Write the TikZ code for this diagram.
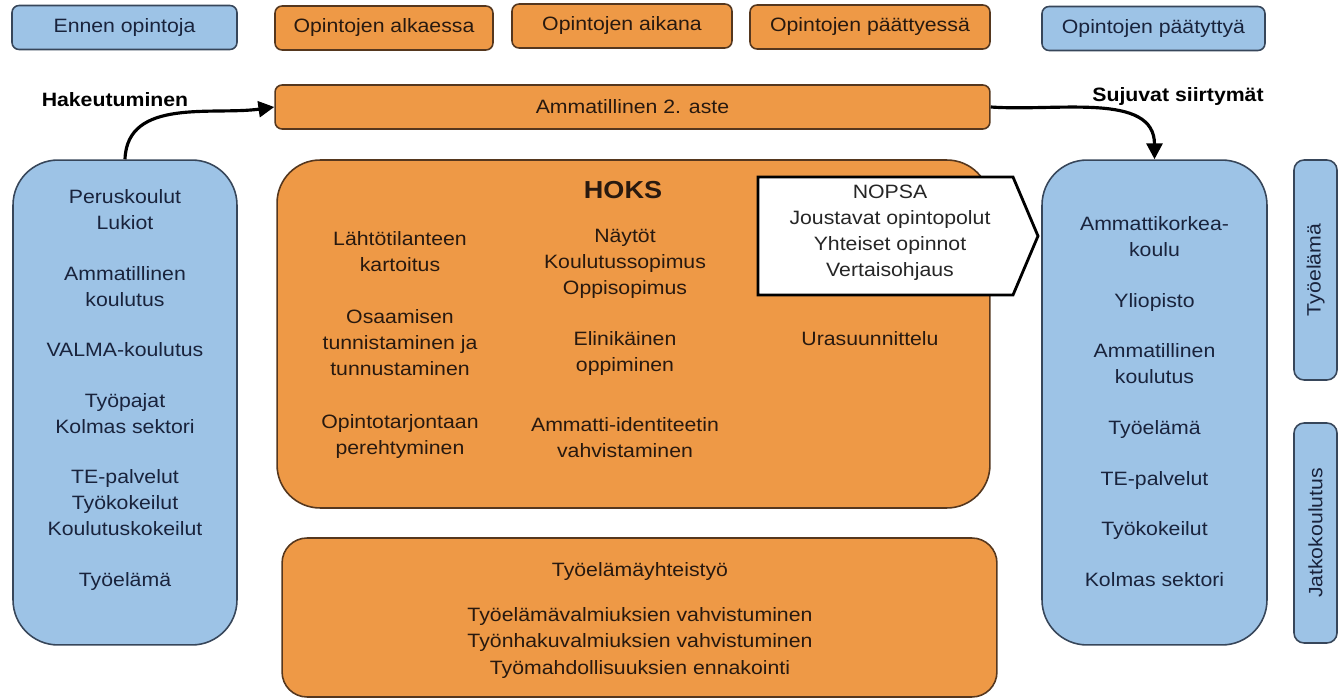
\documentclass[tikz,border=0pt]{standalone}
\usepackage{fontspec}
\setmainfont[FakeStretch=1.1]{Liberation Sans}
\usetikzlibrary{arrows.meta}

\definecolor{oranssi}{RGB}{238,153,70}
\definecolor{sininen}{RGB}{157,195,230}
\definecolor{reunasin}{RGB}{55,70,90}
\definecolor{reunaor}{RGB}{85,55,30}
\definecolor{tekstisin}{RGB}{25,35,60}
\definecolor{tekstior}{RGB}{40,25,15}

\begin{document}
\begin{tikzpicture}[x=0.02cm, y=-0.02cm,
    every node/.style={font=\fontsize{11}{14.8}\selectfont, align=center},
    sinibox/.style={draw=reunasin, fill=sininen, text=tekstisin, line width=0.9pt, inner sep=0pt},
    oranssibox/.style={draw=reunaor, fill=oranssi, text=tekstior, line width=0.9pt, inner sep=0pt},
    otsikko/.style={minimum height=0.88cm, rounded corners=4pt},
    nuoli/.style={line width=1.8pt, -{Triangle[length=9pt, width=9pt]}}]
  \useasboundingbox (0, 0) rectangle (1340, 699);

  % vaiheet
  \node[sinibox, otsikko, minimum width=4.5cm] (ennen) at (124.5, 27.5) {Ennen opintoja};
  \node[oranssibox, otsikko, minimum width=4.36cm] (alkaessa) at (384, 28) {Opintojen alkaessa};
  \node[oranssibox, otsikko, minimum width=4.4cm] (aikana) at (622, 26) {Opintojen aikana};
  \node[oranssibox, otsikko, minimum width=4.8cm] (paattyessa) at (870, 27) {Opintojen päättyessä};
  \node[sinibox, otsikko, minimum width=4.46cm] (paatyttya) at (1153.5, 28.5) {Opintojen päätyttyä};

  \node[oranssibox, otsikko, minimum width=14.3cm] (aste) at (632.5, 107) {Ammatillinen 2. aste};
  \node[font=\fontsize{11}{14.8}\bfseries] (hakeutuminen) at (115, 100) {Hakeutuminen};
  \node[font=\fontsize{11}{14.8}\bfseries] (siirtymat) at (1178, 97) {Sujuvat siirtymät};

  % sarakkeet
  \node[sinibox, minimum width=4.48cm, minimum height=9.7cm, rounded corners=0.9cm] (vasen) at (125, 402.5) {};
  \node[text=tekstisin] (vasenteksti) at (125, 390) {Peruskoulut\\Lukiot\\[14pt]
    Ammatillinen\\koulutus\\[14pt] VALMA-koulutus\\[14pt] Työpajat\\Kolmas sektori\\[14pt]
    TE-palvelut\\Työkokeilut\\Koulutuskokeilut\\[14pt] Työelämä};

  \node[oranssibox, minimum width=14.26cm, minimum height=6.96cm, rounded corners=0.86cm] (hoks) at (633.5, 334) {};
  \node[text=tekstior, font=\fontsize{14}{16}\bfseries] (hoksotsikko) at (623, 190) {HOKS};
  \node[text=tekstior] (kartoitus) at (400, 251.5) {Lähtötilanteen\\kartoitus};
  \node[text=tekstior] (tunnistaminen) at (400, 343) {Osaamisen\\tunnistaminen ja\\tunnustaminen};
  \node[text=tekstior] (perehtyminen) at (400, 436.5) {Opintotarjontaan\\perehtyminen};
  \node[text=tekstior] (naytot) at (625, 264) {Näytöt\\Koulutussopimus\\Oppisopimus};
  \node[text=tekstior] (elinikainen) at (625, 353.5) {Elinikäinen\\oppiminen};
  \node[text=tekstior] (identiteetti) at (625, 437.5) {Ammatti-identiteetin\\vahvistaminen};
  \node[text=tekstior] (urasuunnittelu) at (870, 339) {Urasuunnittelu};

  \coordinate (N1) at (758, 177);
  \coordinate (N2) at (1013, 177);
  \coordinate (N3) at (1038, 236);
  \coordinate (N4) at (1013, 295);
  \coordinate (N5) at (758, 295);
  \draw[line width=1.6pt, fill=white] (N1) -- (N2) -- (N3) -- (N4) -- (N5) -- cycle;
  \node[text=black!85] (nopsa) at (890, 233) {NOPSA\\Joustavat opintopolut\\Yhteiset opinnot\\Vertaisohjaus};

  \node[oranssibox, minimum width=14.3cm, minimum height=3.18cm, rounded corners=0.5cm] (yhteistyo) at (639.5, 617.5) {};
  \node[text=tekstior] (yhteistyootsikko) at (640, 572) {Työelämäyhteistyö};
  \node[text=tekstior] (valmiudet) at (640, 643) {Työelämävalmiuksien vahvistuminen\\
    Työnhakuvalmiuksien vahvistuminen\\Työmahdollisuuksien ennakointi};

  \node[sinibox, minimum width=4.5cm, minimum height=9.7cm, rounded corners=0.9cm] (oikea) at (1154.5, 402.5) {};
  \node[text=tekstisin] (oikeateksti) at (1154.5, 401.5) {Ammattikorkea-\\koulu\\[14pt] Yliopisto\\[14pt]
    Ammatillinen\\koulutus\\[14pt] Työelämä\\[14pt] TE-palvelut\\[14pt] Työkokeilut\\[14pt] Kolmas sektori};

  \node[sinibox, minimum width=0.86cm, minimum height=4.4cm, rounded corners=0.2cm] (tyoelama) at (1315.5, 270) {};
  \node[text=tekstisin, rotate=90] (tyoelamateksti) at (tyoelama) {Työelämä};
  \node[sinibox, minimum width=0.86cm, minimum height=4.4cm, rounded corners=0.2cm] (jatko) at (1315.5, 533) {};
  \node[text=tekstisin, rotate=90] (jatkoteksti) at (jatko) {Jatkokoulutus};

  \draw[nuoli] (vasen.north) to[out=88, in=188] (aste.west);
  \draw[nuoli] (aste.east) to[out=-4, in=90] (oikea.north);
\end{tikzpicture}
\end{document}
